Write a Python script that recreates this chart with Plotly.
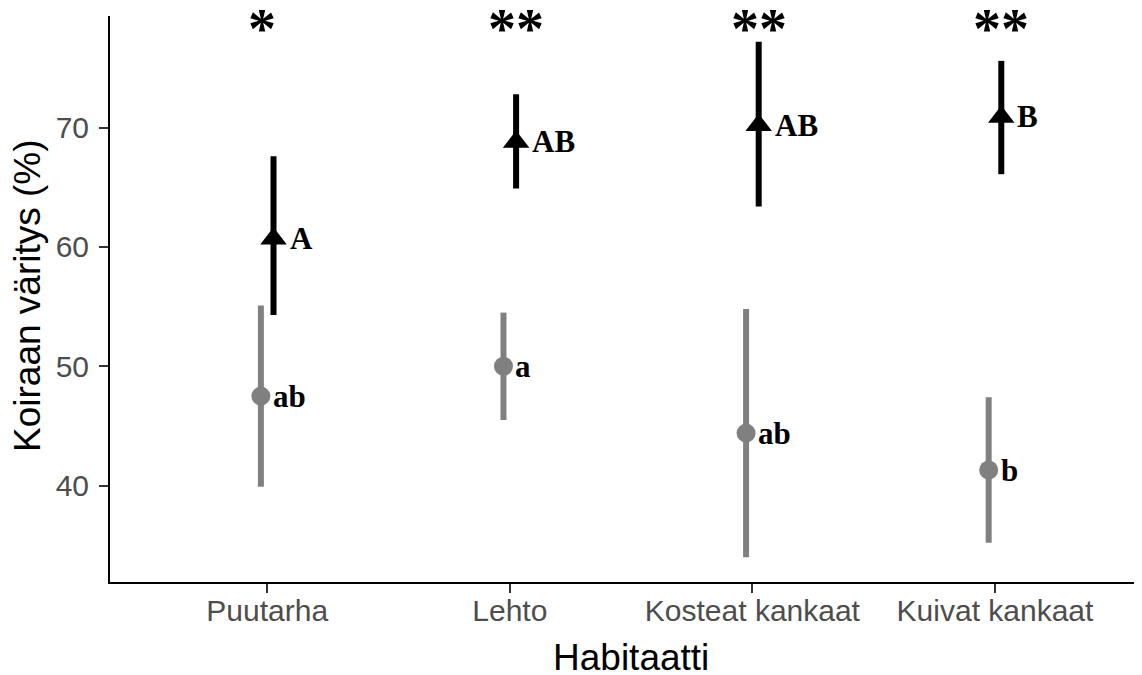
import plotly.graph_objects as go

categories = ["Puutarha", "Lehto", "Kosteat kankaat", "Kuivat kankaat"]

gray_mean = [47.5, 50.0, 44.4, 41.3]
gray_low = [39.9, 45.5, 34.0, 35.2]
gray_high = [55.1, 54.5, 54.8, 47.4]
gray_letters = ["ab", "a", "ab", "b"]

black_mean = [60.7, 68.8, 70.2, 70.9]
black_low = [54.3, 64.9, 63.4, 66.1]
black_high = [67.6, 72.8, 77.2, 75.6]
black_letters = ["A", "AB", "AB", "B"]

signif = ["*", "**", "**", "**"]
signif_y = 78.25

y_ticks = [40, 50, 60, 70]

dodge = 0.026
xpos = list(range(len(categories)))
gx = [i - dodge for i in xpos]
bx = [i + dodge for i in xpos]

GRAY = "#808080"

fig = go.Figure()
fig.add_trace(go.Scatter(
    x=gx, y=gray_mean, mode="markers",
    marker=dict(symbol="circle", size=19, color=GRAY, line=dict(width=0)),
    error_y=dict(type="data", symmetric=False,
                 array=[h - m for h, m in zip(gray_high, gray_mean)],
                 arrayminus=[m - l for m, l in zip(gray_mean, gray_low)],
                 thickness=6, width=0, color=GRAY),
    showlegend=False, hoverinfo="skip"))
fig.add_trace(go.Scatter(
    x=bx, y=black_mean, mode="markers",
    marker=dict(symbol="triangle-up", size=23, color="black", line=dict(width=0)),
    error_y=dict(type="data", symmetric=False,
                 array=[h - m for h, m in zip(black_high, black_mean)],
                 arrayminus=[m - l for m, l in zip(black_mean, black_low)],
                 thickness=6, width=0, color="black"),
    showlegend=False, hoverinfo="skip"))

serif = "Liberation Serif, Times New Roman, serif"
sans = "Liberation Sans, Arial, sans-serif"
annotations = []
for i in xpos:
    annotations.append(dict(x=gx[i], y=gray_mean[i], text="<b>%s</b>" % gray_letters[i],
                            xanchor="left", yanchor="middle", xshift=10, showarrow=False,
                            font=dict(family=serif, size=31, color="black")))
    annotations.append(dict(x=bx[i], y=black_mean[i], text="<b>%s</b>" % black_letters[i],
                            xanchor="left", yanchor="middle", xshift=14, showarrow=False,
                            font=dict(family=serif, size=31, color="black")))
    annotations.append(dict(x=bx[i], y=signif_y, text="<b>%s</b>" % signif[i],
                            xanchor="center", yanchor="middle",
                            xshift=-12 if len(signif[i]) == 1 else 0, showarrow=False,
                            font=dict(family=serif, size=56, color="black")))

# axis titles
annotations.append(dict(xref="paper", yref="paper", x=0.5, y=0, xshift=5, yshift=-75,
                        xanchor="center", yanchor="middle", text="Habitaatti", showarrow=False,
                        font=dict(family=sans, size=37, color="black")))
annotations.append(dict(xref="paper", yref="paper", x=0, y=0.5, xshift=-83, yshift=3,
                        xanchor="center", yanchor="middle", text="Koiraan väritys (%)",
                        textangle=-90, showarrow=False,
                        font=dict(family=sans, size=37, color="black")))

# the page body adds an 8 px offset, so the figure is 8 px smaller than the window
fig.update_layout(
    width=1134, height=667,
    margin=dict(l=102, r=0, t=8, b=93, autoexpand=False),
    paper_bgcolor="white", plot_bgcolor="white",
    annotations=annotations,
    xaxis=dict(
        range=[-0.648, 3.606], tickmode="array", tickvals=xpos, ticktext=categories,
        showline=True, linecolor="black", linewidth=2, mirror=False,
        ticks="outside", ticklen=9, tickwidth=2, tickcolor="#333333",
        tickfont=dict(family=sans, size=30, color="#4D4D4D"),
        ticklabelstandoff=-8,
        showgrid=False, zeroline=False, automargin=False,
    ),
    yaxis=dict(
        range=[31.92, 79.36], tickmode="array", tickvals=y_ticks,
        ticktext=[str(v) for v in y_ticks],
        showline=True, linecolor="black", linewidth=2, mirror=False,
        ticks="outside", ticklen=9, tickwidth=2, tickcolor="#333333",
        tickfont=dict(family=sans, size=30, color="#4D4D4D"),
        ticklabelstandoff=4,
        showgrid=False, zeroline=False, automargin=False,
    ),
)

fig.write_html("out.html")
